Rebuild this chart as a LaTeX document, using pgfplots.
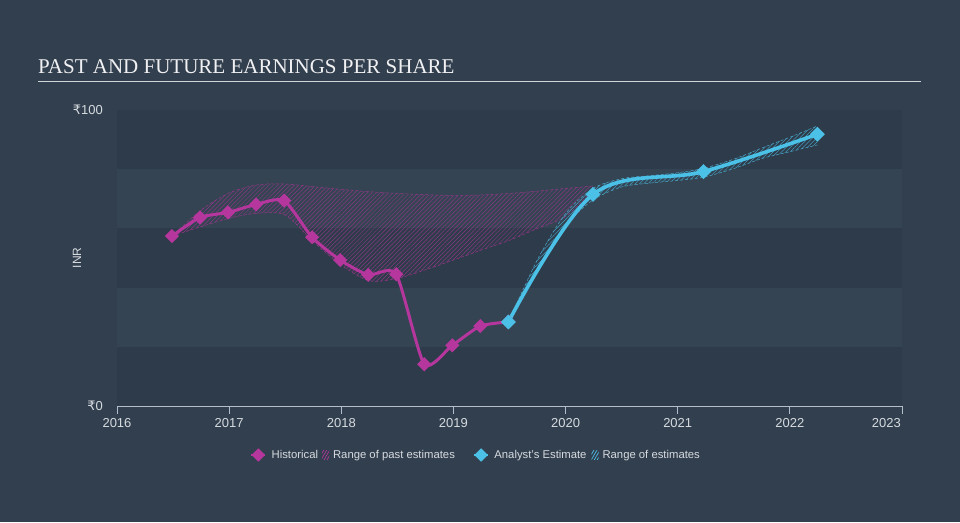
\documentclass[border=0pt]{standalone}
\usepackage{fontspec}
\setmainfont{Liberation Sans}
\newfontfamily\titlefont{Liberation Serif}
\newfontfamily\rupeefont{DejaVu Sans}
\usepackage{xcolor}
\usepackage{pgfplots}
\pgfplotsset{compat=1.18}
\usepgfplotslibrary{fillbetween}
\usetikzlibrary{patterns,patterns.meta}

\definecolor{bg}{HTML}{323F4E}
\definecolor{bandlight}{HTML}{344453}
\definecolor{banddark}{HTML}{2E3B4A}
\definecolor{mag}{HTML}{B5369C}
\definecolor{cyn}{HTML}{4CC1E8}
\definecolor{txt}{HTML}{D6DBE0}
\definecolor{axln}{HTML}{B4BEC8}

\newcommand\rupee{{\rupeefont\char"20B9}}

\pgfplotsset{
  markleg/.style={legend image code/.code={%
    \draw[mark repeat=2,mark phase=2,##1] plot coordinates {(0pt,0pt) (7pt,0pt) (14pt,0pt)};}},
  hatchleg/.style={legend image code/.code={%
    \path[##1] (0pt,-4.5pt) rectangle (7pt,4.5pt);}},
}

\begin{document}
\pagecolor{bg}%
\begin{tikzpicture}[x=1pt,y=1pt]
\path (0,0) rectangle (960,522);
\node[anchor=base west, inner sep=0pt, text=white!93!bg,
  font=\titlefont\fontsize{21}{24}\selectfont] at (38,448.5)
  {PAST AND FUTURE EARNINGS PER SHARE};
\draw[line width=1.8pt, white!78!bg] (38,440.5) -- (921,440.5);

\begin{axis}[
  at={(117pt,116pt)}, anchor=south west,
  width=785pt, height=296pt, scale only axis,
  xmin=2016, xmax=2023, ymin=0, ymax=100,
  set layers,
  axis x line*=bottom, axis y line*=left,
  x axis line style={axln, line width=0.8pt, -},
  y axis line style={draw=none},
  xtick={2016,2017,2018,2019,2020,2021,2022},
  xticklabels={2016,2017,2018,2019,2020,2021,2022},
  extra x ticks={2023}, extra x tick labels={2023},
  extra x tick style={xticklabel style={anchor=north east}},
  x tick style={axln, line width=0.8pt},
  tick align=outside, major tick length=8pt,
  ytick={0,100}, yticklabels={{\rupee0},{\rupee100}},
  y tick style={draw=none},
  yticklabel style={anchor=east, inner sep=0pt, xshift=-6pt},
  xticklabel style={inner sep=1pt, yshift=-3pt},
  tick label style={text=txt, font=\fontsize{13}{15}\selectfont},
  ylabel={INR},
  ylabel style={at={(axis description cs:-0.051,0.5)}, anchor=center,
    text=txt, font=\fontsize{12}{14}\selectfont},
  legend columns=4,
  legend style={at={(axis description cs:0.4567,-0.1655)}, anchor=center,
    draw=none, fill=none, text=txt, font=\fontsize{11.3}{13}\selectfont,
    nodes={inner sep=1pt},
    /tikz/column 1/.append style={column sep=4pt},
    /tikz/column 2/.append style={column sep=3pt},
    /tikz/column 3/.append style={column sep=3pt},
    /tikz/column 4/.append style={column sep=17pt},
    /tikz/column 5/.append style={column sep=4pt},
    /tikz/column 6/.append style={column sep=4pt},
    /tikz/column 7/.append style={column sep=3pt}},
]
\pgfonlayer{axis background}
\fill[banddark] (axis cs:2016,0) rectangle (axis cs:2023,20);
\fill[bandlight] (axis cs:2016,20) rectangle (axis cs:2023,40);
\fill[banddark] (axis cs:2016,40) rectangle (axis cs:2023,60);
\fill[bandlight] (axis cs:2016,60) rectangle (axis cs:2023,80);
\fill[banddark] (axis cs:2016,80) rectangle (axis cs:2023,100);
\endpgfonlayer

\addlegendimage{markleg, mag, line width=2.5pt, mark=square*, mark size=3.5pt,
  mark options={solid, rotate=45}}
\addlegendentry{Historical}
\addlegendimage{hatchleg, draw=none,
  pattern={Lines[angle=60,distance=2.6pt,line width=0.7pt]}, pattern color=mag}
\addlegendentry{Range of past estimates}
\addlegendimage{markleg, cyn, line width=2.5pt, mark=square*, mark size=3.5pt,
  mark options={solid, rotate=45}}
\addlegendentry{Analyst's Estimate}
\addlegendimage{hatchleg, draw=none,
  pattern={Lines[angle=60,distance=2.6pt,line width=0.7pt]}, pattern color=cyn}
\addlegendentry{Range of estimates}

% range of past estimates
\addplot[name path=pu, forget plot, mag!75!bg, densely dashed, line width=0.5pt, smooth]
  coordinates {(2016.49,57.4) (2016.75,66.2) (2017.0,72.0) (2017.25,74.7)
  (2017.5,75.0) (2017.75,74.1) (2018.0,73.2) (2018.25,72.4) (2018.5,71.8)
  (2018.75,71.4) (2019.0,71.1) (2019.25,71.3) (2019.5,71.8) (2019.75,72.6)
  (2020.0,73.5) (2020.245,74.3)};
\addplot[name path=pl, forget plot, mag!75!bg, densely dashed, line width=0.5pt, smooth]
  coordinates {(2016.49,57.4) (2016.75,60.6) (2017.0,63.4) (2017.25,65.1)
  (2017.5,64.5) (2017.75,55.5) (2018.0,47.6) (2018.25,42.3) (2018.5,43.1)
  (2018.75,46.0) (2019.0,49.3) (2019.25,52.7) (2019.5,56.0) (2019.75,60.0)
  (2020.0,64.0) (2020.245,73.0)};
\addplot[forget plot, pattern={Lines[angle=45,distance=3pt,line width=0.5pt]},
  pattern color=mag!65!bg] fill between[of=pu and pl];

% range of estimates
\addplot[name path=cu, forget plot, cyn!80!bg, densely dashed, line width=0.5pt, smooth]
  coordinates {(2019.49,28.4) (2019.75,49.5) (2020.0,65.0) (2020.245,73.5)
  (2020.5,76.8) (2020.75,77.8) (2021.0,78.8) (2021.23,80.3) (2021.5,83.4)
  (2021.76,87.3) (2022.0,90.8) (2022.245,94.6)};
\addplot[name path=cl, forget plot, cyn!80!bg, densely dashed, line width=0.5pt, smooth]
  coordinates {(2019.49,28.4) (2019.75,46.5) (2020.0,61.0) (2020.245,69.6)
  (2020.5,74.0) (2020.75,75.3) (2021.0,76.2) (2021.23,77.3) (2021.5,80.2)
  (2021.76,83.7) (2022.0,85.9) (2022.245,88.2)};
\addplot[forget plot, pattern={Lines[angle=45,distance=3pt,line width=0.5pt]},
  pattern color=cyn!70!bg] fill between[of=cu and cl];

% historical
\addplot[forget plot, mag, line width=3pt, smooth, tension=0.38,
  mark=square*, mark size=3.5pt, mark options={solid, rotate=45}]
  coordinates {(2016.49,57.4) (2016.74,63.7) (2016.99,65.4) (2017.24,68.1)
  (2017.49,69.4) (2017.74,57.0) (2017.99,49.3) (2018.24,44.3) (2018.49,44.5)
  (2018.74,14.1) (2018.99,20.5) (2019.24,27.0) (2019.49,28.4)};

% analyst estimate
\addplot[forget plot, cyn, line width=3.6pt, smooth, tension=0.55,
  mark=square*, mark size=3.5pt, mark options={solid, rotate=45}]
  coordinates {(2019.49,28.4) (2020.245,71.5) (2021.23,79.2) (2022.245,91.8)};
\end{axis}
\end{tikzpicture}
\end{document}
